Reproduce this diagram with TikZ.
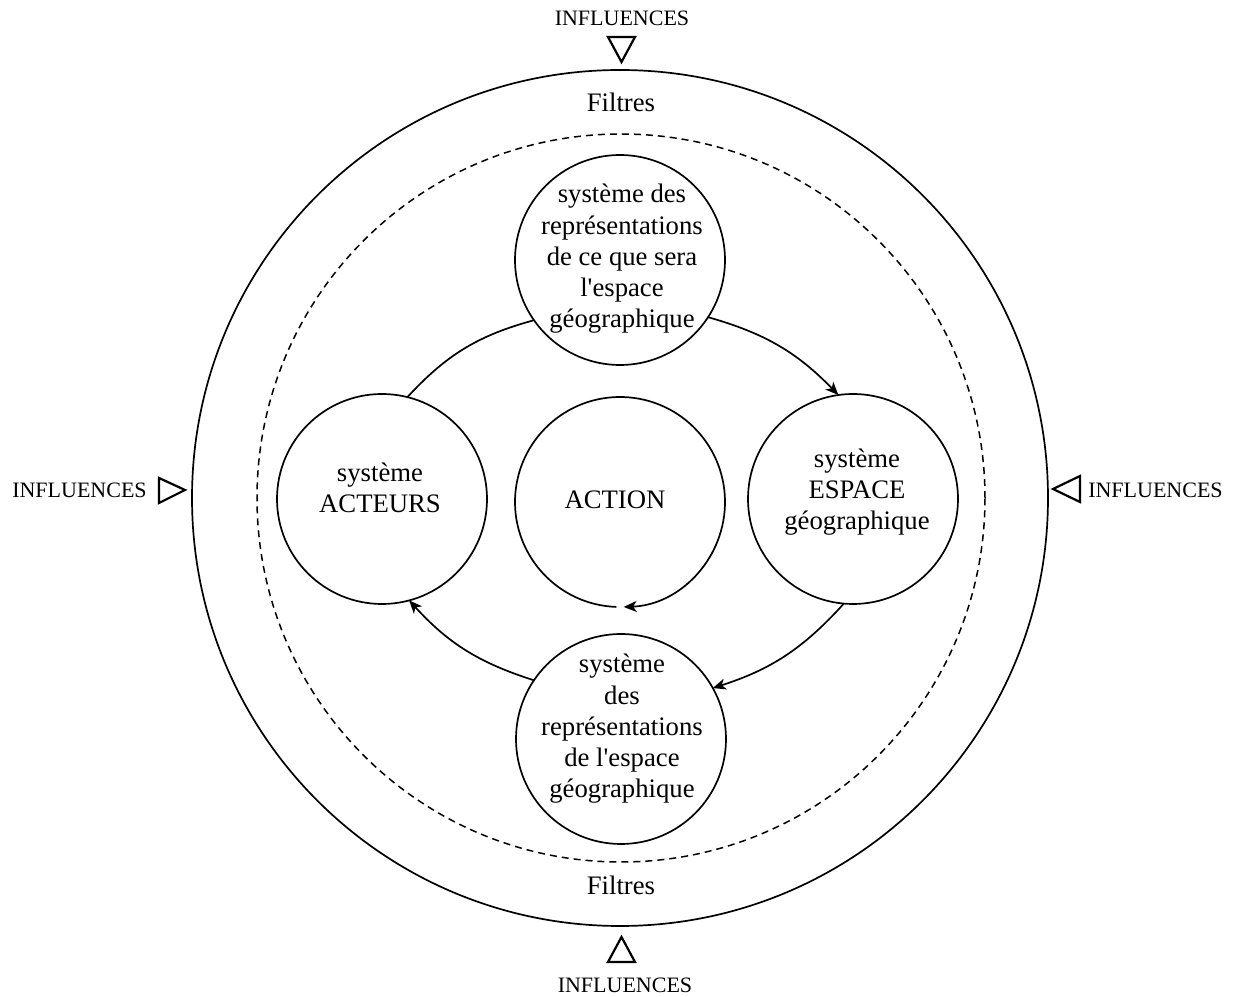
\documentclass[tikz,border=0pt]{standalone}
\usepackage{fontspec}
\setmainfont{Liberation Serif}
\usetikzlibrary{arrows.meta}
\tikzset{
  sys/.style={circle,draw,line width=0.85pt,minimum size=105pt,inner sep=0pt,outer sep=0pt},
  hole/.style={circle,minimum size=105pt,inner sep=0pt,outer sep=0pt},
  txt/.style={align=center,font=\fontsize{13.35pt}{15.65pt}\selectfont,inner sep=0pt},
  infl/.style={font=\fontsize{11pt}{13pt}\selectfont,inner sep=0pt,anchor=base},
  filt/.style={font=\fontsize{13.35pt}{15.65pt}\selectfont,inner sep=0pt,anchor=base},
  conn/.style={line width=0.85pt},
  arr/.style={line width=0.85pt,-{Stealth[length=6.5pt,width=5.5pt,inset=1.8pt]}},
  tri/.style={line width=1.1pt,line join=miter}
}
\begin{document}
\begin{tikzpicture}[x=0.5pt,y=0.5pt]
\useasboundingbox (0,0) rectangle (1233,997);
% outer and dashed circles
\draw[line width=0.85pt] (620,499) circle[radius=428];
\draw[line width=0.75pt,dash pattern=on 3.5pt off 2.5pt] (621,499) circle[radius=364];
% system circles
\node[sys] (topc) at (620,737) {};
\node[sys] (acteurs) at (382,498) {};
\node[sys] (espace) at (853,498) {};
\node[sys] (botc) at (621,258) {};
\node[hole] (action) at (620,495) {};
\draw[arr] (action.-92) arc[start angle=-92,end angle=-448,radius=105];
% texts
\node[txt] (ttop) at (622,738) {système des\\représentations\\de ce que sera\\l\textquotesingle espace\\géographique};
\node[txt] (tbot) at (622,268) {système\\des\\représentations\\de l\textquotesingle espace\\géographique};
\node[txt] (tact) at (380,509) {système\\ACTEURS};
\node[txt] (tesp) at (857,505) {système\\ESPACE\\géographique};
\node[txt] (taction) at (615,497) {ACTION};
% connectors
\draw[conn] (acteurs.76) to[bend left=16] (topc.215);
\draw[arr] (topc.327) to[bend left=15] (espace.98);
\draw[arr] (espace.265) to[bend left=15] (botc.29);
\draw[arr] (botc.146) to[bend left=15] (acteurs.285);
% filtres
\node[filt] (ftop) at (621,885) {Filtres};
\node[filt] (fbot) at (621,102) {Filtres};
% influences
\node[infl] (itop) at (622,971) {INFLUENCES};
\node[infl] (ibot) at (625,4) {INFLUENCES};
\node[infl] (ileft) at (79.5,499) {INFLUENCES};
\node[infl] (iright) at (1155.5,499) {INFLUENCES};
% triangles
\draw[tri] (608,960) -- (635,960) -- (621.5,935) -- cycle;
\draw[tri] (608,35) -- (635,35) -- (621.5,60) -- cycle;
\draw[tri] (159,519) -- (159,494) -- (185,507) -- cycle;
\draw[tri] (1080,521) -- (1080,495) -- (1053,508) -- cycle;
\end{tikzpicture}
\end{document}
